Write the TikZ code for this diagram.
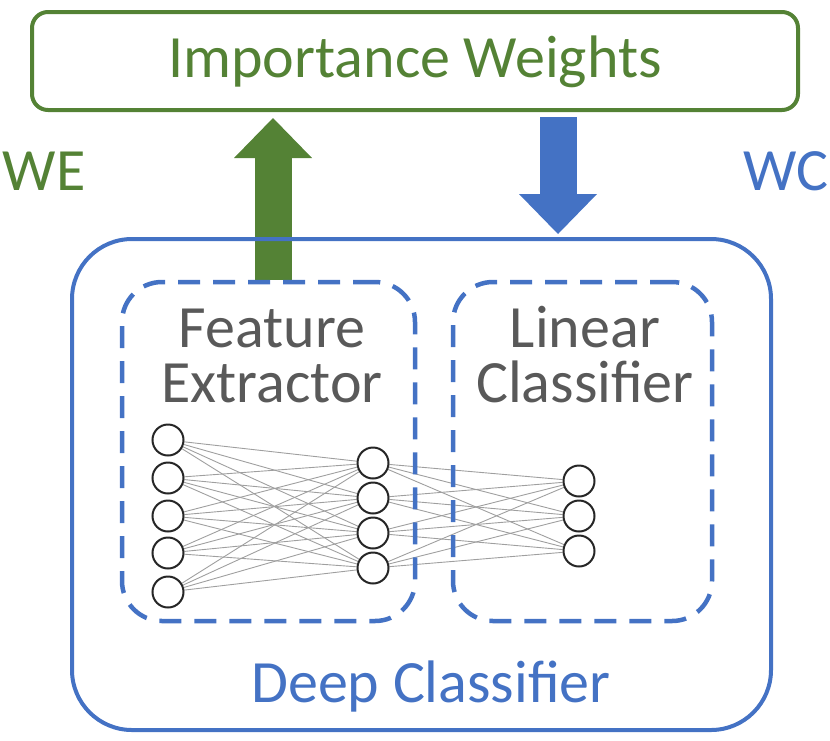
\documentclass[tikz,border=0pt]{standalone}
\usepackage{fontspec}
\setmainfont{Carlito}
\usetikzlibrary{positioning, arrows.meta, backgrounds}
\definecolor{iwGreen}{HTML}{548235}
\definecolor{dcBlue}{HTML}{4472C4}
\definecolor{txtGray}{HTML}{595959}
\definecolor{nnDark}{HTML}{262626}
\tikzset{
  solidbox/.style={rectangle, draw, line width=4pt, inner sep=0pt},
  dashbox/.style={rectangle, rounded corners=40pt, draw=dcBlue,
    line width=4.5pt, dash pattern=on 22pt off 13pt, inner sep=0pt},
  bigtext/.style={font=\fontsize{60}{55}\selectfont, inner sep=0pt},
  neuron/.style={circle, draw=nnDark, line width=2pt, fill=white,
    minimum size=31pt, inner sep=0pt},
  synapse/.style={draw=gray!75, line width=0.9pt},
  fatarrow/.style={line width=37pt,
    -{Triangle[length=40pt, width=78pt, line width=0pt]}},
}

\begin{document}
\begin{tikzpicture}[x=1pt, y=-1pt]
  \useasboundingbox (0,0) rectangle (830,740);
  % boxes
  \node[solidbox, draw=iwGreen, rounded corners=16pt,
        minimum width=766pt, minimum height=98pt] (iw) at (415,61) {};
  \node[solidbox, draw=dcBlue, rounded corners=60pt,
        minimum width=699pt, minimum height=491pt] (deep) at (421.5,484.5) {};
  \node[dashbox, minimum width=293pt, minimum height=339pt] (fext) at (268.5,451.5) {};
  \node[dashbox, minimum width=259pt, minimum height=339pt] (lclf) at (582.5,451.5) {};
  % texts
  \node[bigtext, text=iwGreen, anchor=base] (iwtext) at (415,77) {Importance Weights};
  \node[bigtext, text=iwGreen, anchor=base] (we) at (44,190) {WE};
  \node[bigtext, text=dcBlue, anchor=base] (wc) at (786,190) {WC};
  \node[bigtext, text=dcBlue, anchor=base] (dctext) at (431,702) {Deep Classifier};
  \node[bigtext, text=txtGray, anchor=base, align=center] (fetext) at (272,402) {Feature\\Extractor};
  \node[bigtext, text=txtGray, anchor=base, align=center] (lctext) at (585,402) {Linear\\Classifier};
  % network
  \foreach \i/\y in {1/440,2/478,3/516,4/553,5/592}
    \node[neuron] (in\i) at (168,\y) {};
  \foreach \i/\y in {1/463,2/498,3/533,4/568}
    \node[neuron] (hid\i) at (373,\y) {};
  \foreach \i/\y in {1/481,2/516,3/551}
    \node[neuron] (out\i) at (579,\y) {};
  \begin{scope}[on background layer]
    \foreach \a in {1,...,5}
      \foreach \b in {1,...,4}
        \draw[synapse] (in\a) -- (hid\b);
    \foreach \a in {1,...,4}
      \foreach \b in {1,...,3}
        \draw[synapse] (hid\a) -- (out\b);
    % arrows between the boxes
    \coordinate (weFoot) at (273,280);
    \coordinate (wcTop) at (558,0);
    \draw[fatarrow, iwGreen] (weFoot) -- ([yshift=-6pt]weFoot |- iw.south);
    \draw[fatarrow, dcBlue] ([yshift=-5pt]wcTop |- iw.south) -- ([yshift=3pt]wcTop |- deep.north);
  \end{scope}
\end{tikzpicture}
\end{document}
